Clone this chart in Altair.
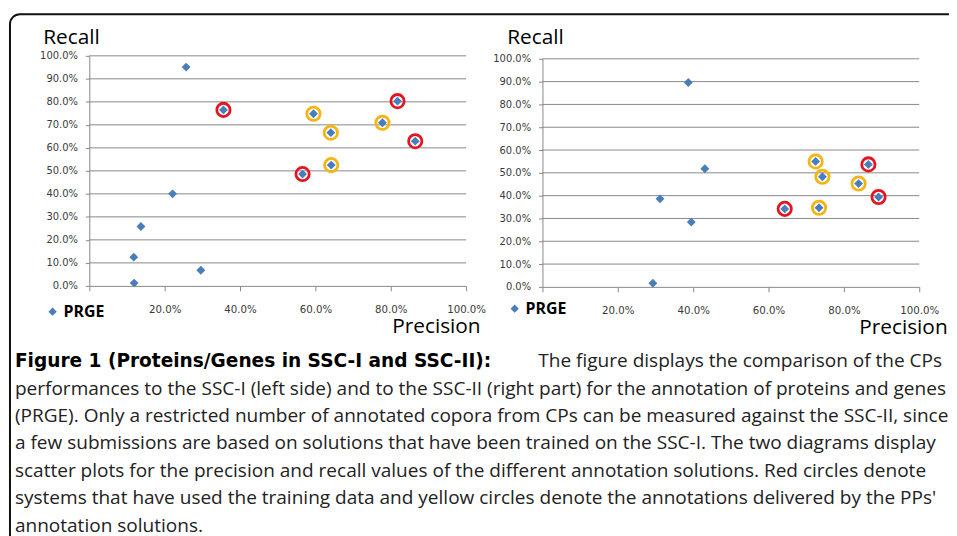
import altair as alt
import pandas as pd

W, H = 949, 528

BLUE = "#4a7ebb"
RED = "#e5141f"
YELLOW = "#f5b412"
GRAY = "#888888"
LABEL = "#3a3a3a"

# ---------------- data ----------------
left_precision = [0.257, 0.356, 0.595, 0.641, 0.818, 0.778, 0.865, 0.642, 0.566, 0.221, 0.137, 0.118, 0.296, 0.119]
left_recall = [0.951, 0.765, 0.748, 0.666, 0.803, 0.709, 0.629, 0.525, 0.486, 0.400, 0.258, 0.125, 0.068, 0.012]
left_ring = ["", "red", "yellow", "yellow", "red", "yellow", "red", "yellow", "red", "", "", "", "", ""]

right_precision = [0.387, 0.431, 0.312, 0.395, 0.293, 0.725, 0.743, 0.865, 0.839, 0.892, 0.643, 0.734]
right_recall = [0.896, 0.518, 0.386, 0.284, 0.016, 0.550, 0.483, 0.537, 0.453, 0.394, 0.342, 0.347]
right_ring = ["", "", "", "", "", "yellow", "yellow", "red", "yellow", "red", "red", "yellow"]

series_name = "PRGE"
precision_ticks = [0.0, 0.2, 0.4, 0.6, 0.8, 1.0]
recall_ticks = [0.0, 0.1, 0.2, 0.3, 0.4, 0.5, 0.6, 0.7, 0.8, 0.9, 1.0]
recall_grid = [0.1, 0.2, 0.3, 0.4, 0.5, 0.6, 0.7, 0.8, 0.9, 1.0]

caption_bold = "Figure 1 (Proteins/Genes in SSC-I and SSC-II):"
caption_lines = [
    "The figure displays the comparison of the CPs",
    "performances to the SSC-I (left side) and to the SSC-II (right part) for the annotation of proteins and genes",
    "(PRGE). Only a restricted number of annotated copora from CPs can be measured against the SSC-II, since",
    "a few submissions are based on solutions that have been trained on the SSC-I. The two diagrams display",
    "scatter plots for the precision and recall values of the different annotation solutions. Red circles denote",
    "systems that have used the training data and yellow circles denote the annotations delivered by the PPs'",
    "annotation solutions.",
]

CAP_SIZE = 19.2


def panel(prec, rec, ring, x_range, y_range, legend_xy, ytitle_x, xtitle_x):
    df = pd.DataFrame({"precision": prec, "recall": rec, "ring": ring, "series": series_name})
    xs = alt.Scale(domain=[0, 1], range=x_range, nice=False, zero=False)
    ys = alt.Scale(domain=[0, 1], range=y_range, nice=False, zero=False)
    x_axis = alt.Axis(
        orient="bottom", offset=y_range[0] - H, values=precision_ticks,
        labelExpr="datum.value == 0 ? '' : format(datum.value, '.1%')",
        grid=False, domainColor=GRAY, tickColor=GRAY, tickSize=5, labelPadding=14,
        labelFont="DejaVu Sans", labelFontSize=10.3, labelColor=LABEL,
        labelFlush=False, labelOverlap=False, zindex=1,
        title="Precision", titleFont="Open Sans", titleFontSize=21, titleFontWeight="normal",
        titleColor="black", titleX=xtitle_x, titleY=47, titleAlign="left",
        titleBaseline="alphabetic", titleAngle=0,
    )
    y_axis = alt.Axis(
        orient="left", offset=-x_range[0], values=recall_ticks, format=".1%",
        grid=False, domainColor=GRAY, tickColor=GRAY, tickSize=4, labelPadding=8,
        labelFont="DejaVu Sans", labelFontSize=10, labelColor=LABEL,
        labelFlush=False, labelOverlap=False, zindex=1,
        title="Recall", titleFont="Open Sans", titleFontSize=21, titleFontWeight="normal",
        titleColor="black", titleAngle=0, titleX=ytitle_x, titleY=33.5,
        titleAlign="left", titleBaseline="alphabetic",
    )
    grid_df = pd.DataFrame({"v": recall_grid, "lo": 0.0, "hi": 1.0})
    grid = alt.Chart(grid_df).mark_rule(color=GRAY, strokeWidth=1).encode(
        y=alt.Y("v:Q", scale=ys, axis=None),
        x=alt.X("lo:Q", scale=xs, axis=None),
        x2="hi:Q",
    )
    rings = alt.Chart(df).transform_filter("datum.ring != ''").mark_point(
        shape="circle", filled=False, size=180, strokeWidth=2.8, opacity=1
    ).encode(
        x=alt.X("precision:Q", scale=xs, axis=None),
        y=alt.Y("recall:Q", scale=ys, axis=None),
        stroke=alt.Stroke("ring:N", scale=alt.Scale(domain=["red", "yellow"], range=[RED, YELLOW]), legend=None),
    )
    leg = alt.Legend(
        orient="none", legendX=legend_xy[0], legendY=legend_xy[1], title=None, padding=0,
        symbolSize=70, symbolStrokeWidth=0, labelFont="Open Sans", labelFontSize=16,
        labelFontWeight="bold", labelColor="black", labelOffset=3,
    )
    pts = alt.Chart(df).mark_point(filled=True, size=80, opacity=1).encode(
        x=alt.X("precision:Q", scale=xs, axis=x_axis),
        y=alt.Y("recall:Q", scale=ys, axis=y_axis),
        color=alt.Color("series:N", scale=alt.Scale(domain=[series_name], range=[BLUE]), legend=leg),
        shape=alt.Shape("series:N", scale=alt.Scale(domain=[series_name], range=["diamond"]), legend=leg),
    )
    return [grid, rings, pts]


left = panel(left_precision, left_recall, left_ring, [82, 462], [278, 46], (37, 296), -47, 387)
right = panel(right_precision, right_recall, right_ring, [539, 919], [279, 49], (503, 293), -36, 858)

frame = alt.Chart(pd.DataFrame({"a": [0]})).mark_rect(
    fill=None, stroke="#111111", strokeWidth=2, cornerRadius=10
).encode(x=alt.value(2), x2=alt.value(W + 30), y=alt.value(4), y2=alt.value(H + 30))

row_scale = alt.Scale(domain=[0, 6], range=[360, 526])
cap_df = pd.DataFrame({"row": list(range(len(caption_lines))), "text": caption_lines})
cap_bold = alt.Chart(pd.DataFrame({"row": [0], "text": [caption_bold]})).mark_text(
    align="left", baseline="alphabetic", font="DejaVu Sans", fontWeight="bold", fontSize=18.7, color="black"
).encode(x=alt.value(7), y=alt.Y("row:Q", scale=row_scale, axis=None), text="text:N")
cap_first = alt.Chart(cap_df).transform_filter("datum.row == 0").mark_text(
    align="right", baseline="alphabetic", font="Open Sans", fontSize=CAP_SIZE, color="#222222"
).encode(x=alt.value(942), y=alt.Y("row:Q", scale=row_scale, axis=None), text="text:N")
cap_rest = alt.Chart(cap_df).transform_filter("datum.row > 0").mark_text(
    align="left", baseline="alphabetic", font="Open Sans", fontSize=CAP_SIZE, color="#222222"
).encode(x=alt.value(7), y=alt.Y("row:Q", scale=row_scale, axis=None), text="text:N")

chart = alt.layer(frame, cap_bold, cap_first, cap_rest, *left, *right).resolve_scale(
    x="independent", y="independent", color="independent", shape="independent", stroke="independent"
).resolve_axis(x="independent", y="independent").resolve_legend(
    color="independent", shape="independent"
).properties(
    width=W, height=H, padding=0, autosize=alt.AutoSizeParams(type="none")
).configure_view(stroke=None)

chart.save("out.html", embed_options={"renderer": "svg", "actions": False})
